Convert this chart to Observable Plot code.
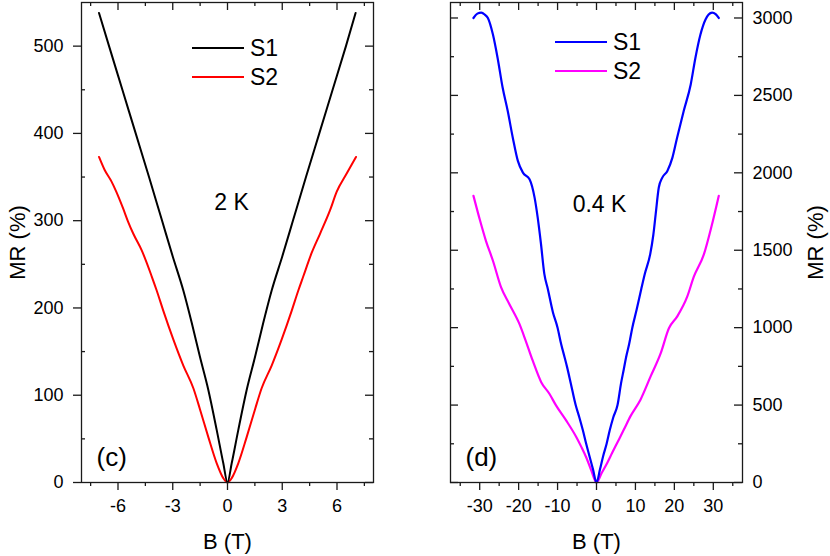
<!DOCTYPE html>
<html><head><meta charset="utf-8">
<script src="https://cdn.jsdelivr.net/npm/d3@7"></script>
<script src="https://cdn.jsdelivr.net/npm/@observablehq/plot@0.6"></script>
<style>
body{margin:0;background:#fff;}
#wrap{position:relative;width:830px;height:556px;font-family:"Liberation Sans",Arial,sans-serif;color:#000;}
#wrap svg{position:absolute;top:0;overflow:visible;background:transparent;}
.leg{position:absolute;height:24px;display:flex;align-items:center;font-size:23px;line-height:24px;}
.leg .sw{width:52px;height:2px;margin-right:6px;}
</style></head><body><div id="wrap"></div>
<script>
// ---------- Panel (c): 2 K ----------
const B_2K_S1 = [-7.04,-6.49,-5.76,-5.03,-4.30,-3.60,-3.00,-2.42,-1.96,-1.51,-1.05,-0.59,-0.23,0,0.23,0.59,1.05,1.51,1.96,2.42,3.00,3.60,4.30,5.03,5.76,6.49,7.02];
const MR_2K_S1 = [538,500,450,400,350,301,259,220,183,144,106,60,22,0,22,60,106,144,183,220,259,301,350,400,450,500,538];
const B_2K_S2 = [-7.04,-6.73,-6.36,-6.09,-5.72,-5.45,-5.16,-4.70,-4.15,-3.88,-3.52,-2.97,-2.42,-1.87,-1.51,-1.05,-0.59,-0.23,0,
  0.23,0.59,1.05,1.51,1.87,2.42,2.97,3.52,3.88,4.15,4.61,5.07,5.62,5.98,6.53,7.04];
const MR_2K_S2 = [373,358,345,333,314,299,285,266,236,220,197,164,134,108,84,52,22,5,0,
  5,22,52,84,108,134,164,197,220,236,263,285,312,333,354,373];
// ---------- Panel (d): 0.4 K ----------
const B_04K_S1 = [-31.6,-30.6,-29.6,-28.7,-27.9,-26.6,-25.4,-24.1,-22.8,-21.5,-20.2,-18.9,-17.2,-15.9,-15.1,-14.3,-13.4,-12.5,-11.2,-10.0,-9.1,-8.2,-7.6,-6.6,-5.35,-4.4,-3.5,-2.65,-1.8,-0.9,0,
  0.9,1.7,2.6,3.4,4.3,5.4,6.3,7.0,7.6,8.4,9.2,10.3,11.5,12.4,13.8,14.6,15.2,16.0,16.9,18.2,19.5,20.7,22.4,24.2,25.4,26.7,28.0,28.8,29.7,30.6,31.4];
const MR_04K_S1 = [3000,3028,3035,3022,3000,2893,2742,2549,2399,2227,2077,2001,1959,1840,1711,1550,1347,1250,1100,1000,896,809,750,640,500,420,337,250,170,85,0,
  85,170,250,337,420,500,640,730,809,896,1000,1115,1250,1347,1475,1600,1733,1905,1969,2012,2098,2227,2399,2571,2742,2893,2990,3022,3035,3025,3000];
const B_04K_S2 = [-31.6,-30.0,-28.4,-26.6,-24.5,-22.4,-19.8,-18.5,-16.4,-14.2,-12.1,-10.4,-7.8,-5.2,-3.9,-2.6,-1.3,0,
  1.3,2.75,4.0,5.3,7.0,8.7,11.3,13.9,16.5,18.6,20.7,23.3,25.0,27.6,29.5,31.4];
const MR_04K_S2 = [1851,1700,1561,1432,1260,1153,1024,938,788,648,573,498,401,294,230,160,75,0,
  60,126,190,255,340,427,535,685,835,996,1071,1200,1329,1475,1650,1851];

// ticks
const xMajC = [-6,-3,0,3,6], xMinC = [-7.5,-4.5,-1.5,1.5,4.5,7.5];
const yMajC = [0,100,200,300,400,500], yMinC = [50,150,250,350,450];
const xMajD = [-30,-20,-10,0,10,20,30], xMinD = [-35,-25,-15,-5,5,15,25,35];
const yMajD = [0,500,1000,1500,2000,2500,3000], yMinD = [250,750,1250,1750,2250,2750];

const zip = (b, m) => b.map((v, i) => ({B: v, MR: m[i]}));
const PH = 480, PW = 292;
const S = {stroke: "#1a1a1a", strokeWidth: 1.3};
const font = "'Liberation Sans', Arial, sans-serif";
const TXT = {textAnchor: "middle", lineAnchor: "middle", fill: "#000"};

const tBottom = (v, len) => Plot.tickX(v, {x: d => d, insetTop: PH - len, dy: len, ...S});
const tTop = (v, len) => Plot.tickX(v, {x: d => d, insetBottom: PH - len, ...S});
const tLeft = (v, len, out) => Plot.tickY(v, {y: d => d, insetRight: PW - len, dx: out ? -len : 0, ...S});
const tRight = (v, len) => Plot.tickY(v, {y: d => d, insetLeft: PW - len, ...S});

const p1 = Plot.plot({
  width: 410, height: 556, marginLeft: 81, marginRight: 37, marginTop: 2, marginBottom: 74,
  x: {domain: [-8, 8]}, y: {domain: [0, 550]},
  style: {fontFamily: font, fontSize: "18px", color: "#000", background: "transparent"},
  marks: [
    Plot.line(zip(B_2K_S2, MR_2K_S2), {x: "B", y: "MR", stroke: "#ff0000", strokeWidth: 2, curve: "monotone-x"}),
    Plot.line(zip(B_2K_S1, MR_2K_S1), {x: "B", y: "MR", stroke: "#000000", strokeWidth: 2, curve: "monotone-x"}),
    Plot.frame(S),
    tBottom(xMajC, 8), tBottom(xMinC, 4), tTop(xMajC, 8), tTop(xMinC, 4),
    tLeft(yMajC, 8, true), tLeft(yMinC, 4, false), tRight(yMajC, 8), tRight(yMinC, 4),
    Plot.axisX(xMajC, {tickSize: 0, tickPadding: 17, tickFormat: d => String(d), label: null, fontSize: 18, fill: "#000"}),
    Plot.axisY(yMajC, {tickSize: 0, tickPadding: 18, tickFormat: d => String(d), label: null, fontSize: 18, fill: "#000"}),
    Plot.text(["B (T)"], {frameAnchor: "bottom", dy: 59, fontSize: 22, ...TXT}),
    Plot.text(["MR (%)"], {frameAnchor: "left", dx: -64, rotate: -90, fontSize: 22, ...TXT}),
    Plot.text(["2 K"], {frameAnchor: "top-left", dx: 150, dy: 200, fontSize: 23, ...TXT}),
    Plot.text(["(c)"], {frameAnchor: "top-left", dx: 15, dy: 455, fontSize: 26, ...TXT, textAnchor: "start"})
  ]
});

const p2 = Plot.plot({
  width: 420, height: 556, marginLeft: 40, marginRight: 88, marginTop: 2, marginBottom: 74,
  x: {domain: [-37.5, 37.5]}, y: {domain: [0, 3100]},
  style: {fontFamily: font, fontSize: "18px", color: "#000", background: "transparent"},
  marks: [
    Plot.line(zip(B_04K_S2, MR_04K_S2), {x: "B", y: "MR", stroke: "#ff00ff", strokeWidth: 2.2, curve: "monotone-x"}),
    Plot.line(zip(B_04K_S1, MR_04K_S1), {x: "B", y: "MR", stroke: "#0000ff", strokeWidth: 2.2, curve: "monotone-x"}),
    Plot.frame(S),
    tBottom(xMajD, 8), tBottom(xMinD, 4), tTop(xMajD, 8), tTop(xMinD, 4),
    tLeft(yMajD, 8, false), tLeft(yMinD, 4, false), tRight(yMajD, 8), tRight(yMinD, 4),
    Plot.axisX(xMajD, {tickSize: 0, tickPadding: 17, tickFormat: d => String(d), label: null, fontSize: 18, fill: "#000"}),
    Plot.axisY(yMajD, {anchor: "right", tickSize: 0, tickPadding: 10, tickFormat: d => String(d), label: null, fontSize: 18, fill: "#000"}),
    Plot.text(["B (T)"], {frameAnchor: "bottom", dy: 59, fontSize: 22, ...TXT}),
    Plot.text(["MR (%)"], {frameAnchor: "right", dx: 73, rotate: -90, fontSize: 22, ...TXT}),
    Plot.text(["0.4 K"], {frameAnchor: "top-left", dx: 149, dy: 202, fontSize: 23, ...TXT}),
    Plot.text(["(d)"], {frameAnchor: "top-left", dx: 15, dy: 455, fontSize: 26, ...TXT, textAnchor: "start"})
  ]
});

const wrap = document.getElementById("wrap");
p1.style.left = "0px";
p2.style.left = "410px";
wrap.appendChild(p1);
wrap.appendChild(p2);

// legends
const legends = [
  {label: "S1", color: "#000000", left: 192, cy: 48.3},
  {label: "S2", color: "#ff0000", left: 192, cy: 77.3},
  {label: "S1", color: "#0000ff", left: 555, cy: 42.3},
  {label: "S2", color: "#ff00ff", left: 555, cy: 70.7}
];
for (const l of legends) {
  const row = document.createElement("div");
  row.className = "leg";
  row.style.left = l.left + "px";
  row.style.top = (l.cy - 12) + "px";
  const sw = document.createElement("div");
  sw.className = "sw";
  sw.style.background = l.color;
  const tx = document.createElement("span");
  tx.textContent = l.label;
  row.appendChild(sw);
  row.appendChild(tx);
  wrap.appendChild(row);
}
</script></body></html>
